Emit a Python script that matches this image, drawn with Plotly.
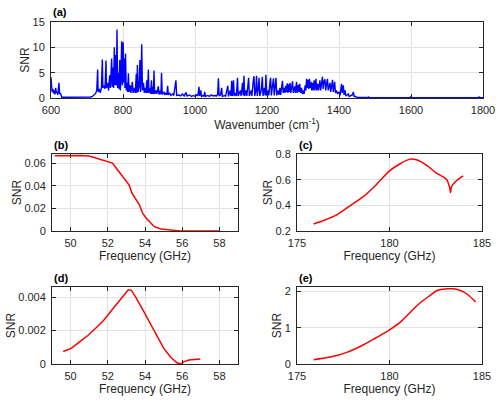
import plotly.graph_objects as go

# ---------------- data ----------------
wn_a = [600, 603, 605, 607, 609, 611, 613, 615, 617, 619, 622, 624, 626, 628, 630, 650, 680, 700, 710,
        715, 720, 724, 727, 729.6, 731, 734, 737, 740, 742.6, 744, 747, 750, 752.8, 754, 757, 760, 763, 765,
        768.5, 770, 773, 774, 775.9, 777.5, 780, 781.5, 783.3, 785, 787, 789, 791, 792.5, 794, 796.3, 798,
        800.5, 802, 804, 805.5, 807, 809, 811, 813, 815, 817, 820, 822, 826, 828, 832, 834, 837, 838.5, 840,
        842, 845, 847, 848.5, 850, 852, 854, 857, 859, 862, 864, 866, 868, 870.5, 872, 875, 877, 879, 881,
        883, 884.5, 886, 888, 892, 894, 898, 900, 904, 905.5, 907, 909, 914, 916, 920, 922, 924, 926, 930,
        933, 938, 941, 947, 949, 955, 960, 965, 970, 975, 978, 985, 990, 996, 1000, 1005, 1008, 1011, 1013,
        1016, 1018, 1022, 1025, 1027, 1029, 1035, 1040, 1045, 1050, 1055, 1060, 1063, 1065, 1067, 1071, 1074,
        1076, 1082, 1085, 1091, 1093, 1098, 1100, 1102, 1104, 1107, 1109, 1113, 1115, 1118, 1120, 1126, 1128,
        1132, 1134, 1136, 1138, 1142, 1144, 1149, 1151, 1156, 1158, 1162, 1164, 1166, 1169, 1171, 1173, 1176,
        1178, 1180, 1184, 1187, 1189, 1193, 1195, 1197, 1199, 1203, 1205, 1208, 1210, 1212, 1215, 1218, 1220,
        1223, 1225, 1227, 1230, 1233, 1236, 1238, 1241, 1243, 1245, 1248, 1250, 1252, 1254, 1256, 1258, 1260,
        1262, 1264, 1266, 1268, 1271, 1273, 1275, 1277, 1279, 1282, 1284, 1287, 1289, 1291, 1293, 1296, 1298,
        1301, 1303, 1306, 1308, 1310, 1312, 1314, 1316, 1318, 1320, 1322, 1324, 1326, 1328, 1331, 1333, 1336,
        1338, 1341, 1343, 1345, 1347, 1349, 1352, 1354, 1356, 1358, 1361, 1363, 1366, 1368, 1370, 1373, 1375,
        1377, 1380, 1382, 1384, 1386, 1388, 1390, 1393, 1396, 1400, 1403, 1407, 1409, 1412, 1414, 1417, 1419,
        1423, 1426, 1428, 1434, 1437, 1440, 1442, 1446, 1450, 1480, 1482, 1484, 1500, 1595, 1598, 1602, 1605,
        1785, 1790, 1792, 1800]
snr_a = [4.1, 1.2, 1.8, 0.9, 1.5, 0.7, 2.0, 1.0, 1.2, 0.6, 3.0, 0.8, 1.0, 0.2, 0.15, 0.15, 0.15, 0.15, 0.2,
         0.3, 0.6, 0.9, 1.5, 5.6, 1.2, 1.8, 1.0, 2.0, 7.6, 2.0, 2.5, 1.8, 7.4, 2.0, 3.0, 1.5, 4.5, 2.0,
         7.8, 2.2, 6.0, 2.0, 10.0, 2.5, 8.5, 2.5, 13.5, 2.0, 5.0, 1.8, 7.5, 1.5, 3.5, 11.2, 2.5,
         11.0, 3.0, 7.8, 2.0, 8.8, 1.5, 3.0, 1.2, 4.9, 1.2, 2.5, 1.0, 3.2, 1.0, 2.0, 1.0, 4.8, 1.0, 6.5,
         1.2, 2.5, 7.5, 1.2, 3.0, 10.6, 1.5, 3.0, 1.0, 2.0, 1.0, 3.5, 1.0, 5.6, 1.0, 2.0, 0.8, 3.5, 0.8,
         2.2, 0.8, 5.4, 0.8, 1.5, 0.8, 2.3, 0.7, 1.5, 0.7, 5.0, 0.7, 1.2, 0.6, 1.0, 0.6, 2.4, 0.6, 1.0,
         0.5, 0.8, 0.5, 3.5, 0.5, 0.6, 0.4, 0.8, 0.4, 1.1, 0.4, 0.6, 0.3, 0.5, 0.3, 0.6, 0.4, 2.2, 0.4,
         1.5, 0.3, 0.5, 0.3, 1.2, 0.3, 0.5, 0.3, 0.6, 0.4, 0.5, 0.4, 0.8, 3.9, 0.4, 0.6, 2.0,
         0.3, 0.5, 0.3, 2.4, 0.3, 1.5, 0.4, 3.4, 0.4, 3.5, 0.4, 1.0, 0.4, 4.0, 0.4, 1.5, 0.4,
         3.0, 0.5, 4.4, 0.4, 1.5, 0.4, 4.0, 0.4, 1.5, 0.4, 3.5, 4.3, 0.4, 1.5, 4.4, 0.4, 2.0,
         4.0, 0.4, 1.5, 4.2, 0.4, 2.0, 0.5, 4.6, 0.5, 1.5, 0.5, 3.0, 4.0, 0.5, 2.5, 3.9, 0.5,
         3.0, 4.0, 0.5, 1.5, 0.6, 2.0, 0.6, 2.8, 3.4, 1.0, 2.0, 1.0, 2.4, 1.2, 2.9, 1.0, 2.7,
         1.2, 3.0, 1.0, 2.0, 3.3, 1.0, 2.0, 2.3, 1.0, 3.2, 1.0, 2.6, 1.2, 2.8, 1.0, 2.0, 0.8,
         1.5, 0.8, 2.5, 1.5, 3.8, 2.0, 3.6, 1.8, 3.8, 2.0, 3.2, 1.5, 3.0, 1.5, 3.5, 1.5, 3.8,
         1.5, 2.8, 1.5, 3.2, 3.5, 1.5, 3.8, 4.2, 1.8, 3.2, 3.7, 1.5, 3.0, 3.8, 1.5, 2.8, 3.0,
         1.2, 3.0, 3.6, 1.2, 2.5, 3.2, 1.0, 1.5, 0.8, 1.2, 0.5, 2.8, 1.0, 2.5, 0.6, 1.5, 0.4,
         0.6, 0.8, 0.3, 0.4, 0.6, 1.2, 0.3, 0.3, 0.1, 0.1, 0.2, 0.05, 0.05, 0.05, 0.2, 0.1, 0.05,
         0.05, 0.2, 0.05, 0.05]

f_b = [49.15, 49.6, 50.0, 50.5, 51.0, 51.6, 52.25, 52.5, 53.05, 53.1, 53.15, 53.3, 53.6, 53.65, 53.7,
       53.87, 54.1, 54.14, 54.2, 54.5, 54.86, 55.4, 55.9, 57.0, 58.0]
snr_b = [0.0665, 0.0666, 0.0667, 0.0666, 0.0662, 0.0630, 0.0600, 0.0545, 0.0423, 0.0410, 0.0405, 0.0334,
         0.0250, 0.0240, 0.0232, 0.0157, 0.0100, 0.0098, 0.0090, 0.0038, 0.0018, 0.0006, 0.0001, 0.0, 0.0]

f_c = [175.9, 176.4, 177.15, 177.9, 178.6, 179.3, 180.0, 180.6, 181.1, 181.46, 182.0, 182.5, 183.1,
       183.25, 183.3, 183.35, 183.6, 183.98]
snr_c = [0.255, 0.28, 0.326, 0.40, 0.47, 0.563, 0.668, 0.726, 0.76, 0.755, 0.713, 0.655, 0.60,
         0.537, 0.50, 0.545, 0.59, 0.63]

f_d = [49.6, 50.05, 50.5, 50.96, 51.4, 51.77, 52.2, 52.57, 52.9, 53.1, 53.27, 53.5, 53.9, 54.3, 54.66,
       55.0, 55.38, 55.74, 55.92, 56.1, 56.37, 56.97]
snr_d = [0.00075, 0.00095, 0.00134, 0.00173, 0.0022, 0.0026, 0.0032, 0.0037, 0.0042, 0.00443, 0.0044,
         0.0040, 0.0032, 0.0024, 0.00164, 0.00095, 0.0004, 0.00006, 0.0, 0.00014, 0.00024, 0.0003]

f_e = [175.9, 176.8, 177.7, 178.6, 179.3, 180.0, 180.6, 181.1, 181.6, 182.2, 182.6, 183.1, 183.4,
       183.8, 184.2, 184.65]
snr_e = [0.12, 0.19, 0.32, 0.53, 0.73, 0.94, 1.16, 1.41, 1.66, 1.89, 2.03, 2.07, 2.07, 2.03, 1.92, 1.71]

panel_labels = ["(a)", "(b)", "(c)", "(d)", "(e)"]

# ---------------- figure ----------------
W, H = 500, 402
FONT = "Liberation Sans, Arial, Helvetica, sans-serif"
AX = "#262626"
GRID = "#e3e3e3"

def dx(a, b):
    return [a / W, b / W]

def dy(top, bot):
    return [1 - bot / H, 1 - top / H]

fig = go.Figure()
fig.add_trace(go.Scatter(x=wn_a, y=snr_a, mode="lines", line=dict(color="#0000ff", width=1.4),
                         xaxis="x", yaxis="y", showlegend=False))
fig.add_trace(go.Scatter(x=f_b, y=snr_b, mode="lines", line=dict(color="#ff0000", width=1.5),
                         xaxis="x2", yaxis="y2", showlegend=False))
fig.add_trace(go.Scatter(x=f_c, y=snr_c, mode="lines",
                         line=dict(color="#ff0000", width=1.5, shape="spline", smoothing=0.6),
                         xaxis="x3", yaxis="y3", showlegend=False))
fig.add_trace(go.Scatter(x=f_d, y=snr_d, mode="lines", line=dict(color="#ff0000", width=1.5),
                         xaxis="x4", yaxis="y4", showlegend=False))
fig.add_trace(go.Scatter(x=f_e, y=snr_e, mode="lines", line=dict(color="#ff0000", width=1.5, shape="spline"),
                         xaxis="x5", yaxis="y5", showlegend=False))

def xax(domain, rng, tickvals, anchor, title, standoff=3):
    return dict(domain=domain, range=rng, tickvals=tickvals, anchor=anchor, automargin=False,
                showline=True, linecolor=AX, linewidth=1, mirror="ticks",
                ticks="inside", ticklen=4, tickcolor=AX, showgrid=True, gridcolor=GRID,
                zeroline=False, tickfont=dict(size=11, color=AX, family=FONT), ticklabelstandoff=2,
                title=dict(text=title, font=dict(size=12, color=AX, family=FONT), standoff=standoff))

def yax(domain, rng, tickvals, ticktext, anchor):
    return dict(domain=domain, range=rng, tickvals=tickvals, ticktext=ticktext, anchor=anchor,
                automargin=False,
                showline=True, linecolor=AX, linewidth=1, mirror="ticks",
                ticks="inside", ticklen=4, tickcolor=AX, showgrid=True, gridcolor=GRID,
                zeroline=False, tickfont=dict(size=11, color=AX, family=FONT), ticklabelstandoff=3,
                title=dict(text="SNR", font=dict(size=12, color=AX, family=FONT), standoff=0))

freq_title = "Frequency (GHz)"
fig.update_layout(
    width=W, height=H, margin=dict(l=0, r=0, t=0, b=0, autoexpand=False),
    paper_bgcolor="white", plot_bgcolor="white",
    font=dict(family=FONT, color=AX),
    xaxis=xax(dx(51, 483), [600, 1800], [600, 800, 1000, 1200, 1400, 1600, 1800], "y",
              "Wavenumber (cm<sup>-1</sup>)", standoff=5),
    yaxis=yax(dy(22, 98), [0, 15], [0, 5, 10, 15], ["0", "5", "10", "15"], "x"),
    xaxis2=xax(dx(52, 238), [49, 59], [50, 52, 54, 56, 58], "y2", freq_title),
    yaxis2=yax(dy(154, 231), [0, 0.068], [0, 0.02, 0.04, 0.06], ["0", "0.02", "0.04", "0.06"], "x2"),
    xaxis3=xax(dx(297, 482), [175, 185], [175, 180, 185], "y3", freq_title),
    yaxis3=yax(dy(154, 231), [0.2, 0.8], [0.2, 0.4, 0.6, 0.8], ["0.2", "0.4", "0.6", "0.8"], "x3"),
    xaxis4=xax(dx(52, 238), [49, 59], [50, 52, 54, 56, 58], "y4", freq_title),
    yaxis4=yax(dy(287, 364), [0, 0.0046], [0, 0.002, 0.004], ["0", "0.002", "0.004"], "x4"),
    xaxis5=xax(dx(297, 482), [175, 185], [175, 180, 185], "y5", freq_title),
    yaxis5=yax(dy(287, 364), [0, 2.12], [0, 1, 2], ["0", "1", "2"], "x5"),
)

label_pos = [(51, 12), (52, 145), (297, 145), (52, 278), (297, 278)]
for txt, (px, py) in zip(panel_labels, label_pos):
    fig.add_annotation(text="<b>" + txt + "</b>", xref="paper", yref="paper",
                       x=px / W, y=1 - py / H, xanchor="left", yanchor="middle",
                       showarrow=False, font=dict(size=11, color="black", family=FONT))

fig.write_html("out.html", config={"displayModeBar": False},
               post_script="document.body.style.margin='0';document.body.style.padding='0';")
